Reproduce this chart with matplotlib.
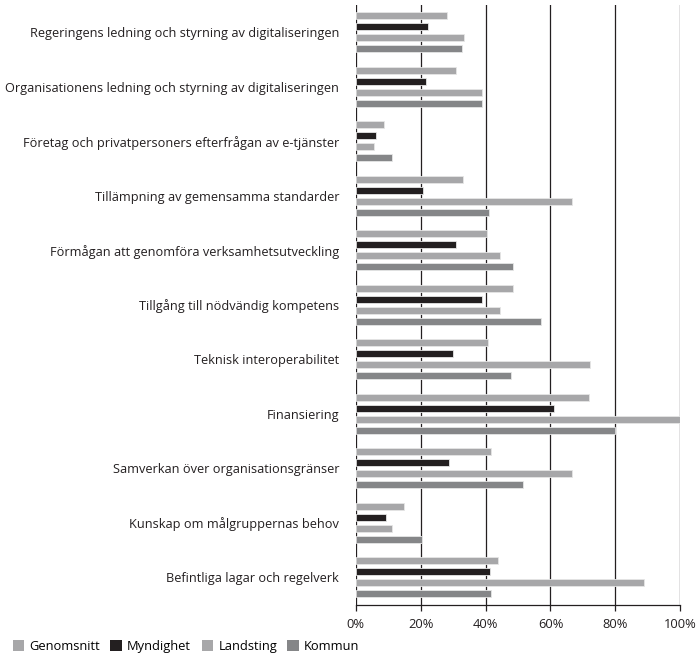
import matplotlib
matplotlib.use("Agg")
import matplotlib.pyplot as plt
import numpy as np
from matplotlib.patches import Patch

plt.rcParams['font.family'] = ['Open Sans', 'DejaVu Sans']

categories = [
    "Regeringens ledning och styrning av digitaliseringen",
    "Organisationens ledning och styrning av digitaliseringen",
    "Företag och privatpersoners efterfrågan av e-tjänster",
    "Tillämpning av gemensamma standarder",
    "Förmågan att genomföra verksamhetsutveckling",
    "Tillgång till nödvändig kompetens",
    "Teknisk interoperabilitet",
    "Finansiering",
    "Samverkan över organisationsgränser",
    "Kunskap om målgruppernas behov",
    "Befintliga lagar och regelverk",
]
series_names = ["Genomsnitt", "Myndighet", "Landsting", "Kommun"]
genomsnitt = [28, 31, 8.6, 33, 40.4, 48.3, 40.6, 72, 41.7, 15, 43.8]
myndighet = [22.4, 21.6, 6.4, 20.6, 30.9, 38.8, 29.9, 61, 28.8, 9.2, 41.4]
landsting = [33.3, 38.9, 5.6, 66.6, 44.4, 44.4, 72.3, 100, 66.6, 11.1, 88.8]
kommun = [32.6, 38.8, 11.2, 41.1, 48.5, 57.1, 47.8, 79.9, 51.4, 20.5, 41.6]
xticks = [0, 20, 40, 60, 80, 100]
xticklabels = ["0%", "20%", "40%", "60%", "80%", "100%"]

colors = ["#a7a7a9", "#231f20", "#a7a7a9", "#858688"]
series = [genomsnitt, myndighet, landsting, kommun]

fig = plt.figure(figsize=(6.99, 6.59), dpi=100)
ax = fig.add_axes([0.5089, 0.0827, 0.4644, 0.9097])

y = np.arange(len(categories))
step = 0.2026
h = 0.13
for k, (vals, c) in enumerate(zip(series, colors)):
    ax.barh(y + (k - 1.5) * step, vals, height=h, color=c,
            edgecolor="#e6e6e6", linewidth=0.6, zorder=3)

ax.set_ylim(len(categories) - 0.5, -0.5)
ax.set_xlim(0, 100)
ax.set_yticks(y)
ax.set_yticklabels(categories, fontsize=9.2, color="#231f20")
ax.tick_params(axis='y', length=0, pad=12)
ax.set_xticks(xticks)
ax.set_xticklabels(xticklabels, fontsize=9.3, color="#231f20")
ax.tick_params(axis='x', length=4, width=0.9, direction='out', pad=6, color="#231f20")
for s in ["top", "right", "left"]:
    ax.spines[s].set_visible(False)
ax.spines["bottom"].set_color("#231f20")
ax.spines["bottom"].set_linewidth(0.9)
for xv in xticks:
    ax.axvline(xv, color="#231f20", linewidth=0.9, zorder=1)

handles = [Patch(facecolor=c, edgecolor="none") for c in colors]
fig.legend(handles, series_names, loc="lower left", bbox_to_anchor=(0.005, -0.005),
           ncol=4, frameon=False, fontsize=9.3, handlelength=0.9, handleheight=0.9,
           handletextpad=0.4, columnspacing=0.8, borderaxespad=0.3)

fig.savefig("out.png", dpi=100)
